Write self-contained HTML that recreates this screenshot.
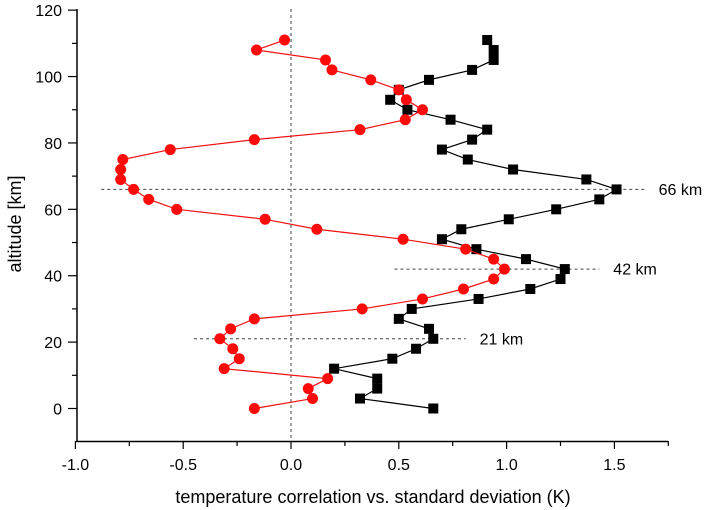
<!DOCTYPE html>
<html><head><meta charset="utf-8"><style>
body{margin:0;background:#fff}
svg{display:block;font-family:"Liberation Sans",Arial,sans-serif}
</style></head><body>
<svg id="chart" width="706" height="510" viewBox="0 0 706 510"></svg>
<script>
const altitudes=[0,3,6,9,12,15,18,21,24,27,30,33,36,39,42,45,48,51,54,57,60,63,66,69,72,75,78,81,84,87,90,93,96,99,102,105,108,111];
const correlation=[-0.17,0.10,0.08,0.17,-0.31,-0.24,-0.27,-0.33,-0.28,-0.17,0.33,0.61,0.80,0.94,0.99,0.94,0.81,0.52,0.12,-0.12,-0.53,-0.66,-0.73,-0.79,-0.79,-0.78,-0.56,-0.17,0.32,0.53,0.61,0.535,0.50,0.37,0.19,0.16,-0.16,-0.03];
const stddev=[0.66,0.32,0.40,0.40,0.20,0.47,0.58,0.66,0.64,0.50,0.56,0.87,1.11,1.25,1.27,1.09,0.86,0.70,0.79,1.01,1.23,1.43,1.51,1.37,1.03,0.82,0.70,0.84,0.91,0.74,0.54,0.46,0.50,0.64,0.84,0.94,0.94,0.91];
const xTicks=[-1.0,-0.5,0.0,0.5,1.0,1.5];
const xTickLabels=["-1.0","-0.5","0.0","0.5","1.0","1.5"];
const yTicks=[0,20,40,60,80,100,120];
const markerLines=[66,42,21];
const markerLabels=["66 km","42 km","21 km"];
const markerRanges=[[-0.88,1.64],[0.48,1.43],[-0.45,0.81]];

const NS="http://www.w3.org/2000/svg";
const svg=document.getElementById('chart');
const X=v=>291+(v)*215.6;
const Y=v=>408.5-v*3.3195;
function el(t,a,p){const e=document.createElementNS(NS,t);for(const k in a)e.setAttribute(k,a[k]);(p||svg).appendChild(e);return e;}

// axes
const ax=el('g',{});


el('line',{x1:77,y1:9,x2:77,y2:442,stroke:'#000','stroke-width':1.5},ax);
el('line',{x1:76,y1:441.5,x2:668,y2:441.5,stroke:'#000','stroke-width':1.5},ax);
for(let v=-1.0;v<=1.76;v+=0.25){const major=Math.abs(v*2-Math.round(v*2))<1e-6;
 el('line',{x1:X(v),y1:441,x2:X(v),y2:major?449:446,stroke:'#000','stroke-width':1.2},ax);}
xTicks.forEach((v,i)=>{const t=el('text',{x:X(v),y:470,'text-anchor':'middle','font-size':16},ax);t.textContent=xTickLabels[i];
 
 });
for(let v=0;v<=120;v+=10){const major=v%20===0;
 el('line',{x1:major?68:72,y1:Y(v),x2:77,y2:Y(v),stroke:'#000','stroke-width':1.2},ax);}
yTicks.forEach(v=>{const t=el('text',{x:62,y:Y(v)+6,'text-anchor':'end','font-size':16},ax);t.textContent=v;
 
 });
const xt=el('text',{x:373,y:503,'text-anchor':'middle','font-size':18});xt.textContent='temperature correlation vs. standard deviation (K)';


const yt=el('text',{x:0,y:0,'text-anchor':'middle','font-size':18,transform:'translate(21,224) rotate(-90)'});yt.textContent='altitude [km]';



// reference lines
const zl=el('line',{x1:X(0),y1:9,x2:X(0),y2:441,stroke:'#444','stroke-width':1,'stroke-dasharray':'3,3'});


markerLines.forEach((a,i)=>{
 const l=el('line',{x1:X(markerRanges[i][0]),y1:Y(a),x2:X(markerRanges[i][1]),y2:Y(a),stroke:'#444','stroke-width':1,'stroke-dasharray':'3,3'});
 
 
 const t=el('text',{x:X(markerRanges[i][1])+14,y:Y(a)+5.5,'font-size':16});t.textContent=markerLabels[i];
 
 
});

// black series
const gb=el('g',{});


el('polyline',{points:altitudes.map((a,i)=>X(stddev[i])+','+Y(a)).join(' '),fill:'none',stroke:'#000','stroke-width':1.2},gb);
altitudes.forEach((a,i)=>{const r=el('rect',{x:X(stddev[i])-5,y:Y(a)-5,width:10,height:10,fill:'#000'},gb);
 
 });

// red series
const gr=el('g',{});


el('polyline',{points:altitudes.map((a,i)=>X(correlation[i])+','+Y(a)).join(' '),fill:'none',stroke:'#f01010','stroke-width':1.2},gr);
altitudes.forEach((a,i)=>{const c=el('circle',{cx:X(correlation[i]),cy:Y(a),r:5.5,fill:'#ff0a0a'},gr);
 
 });
</script>
</body></html>
